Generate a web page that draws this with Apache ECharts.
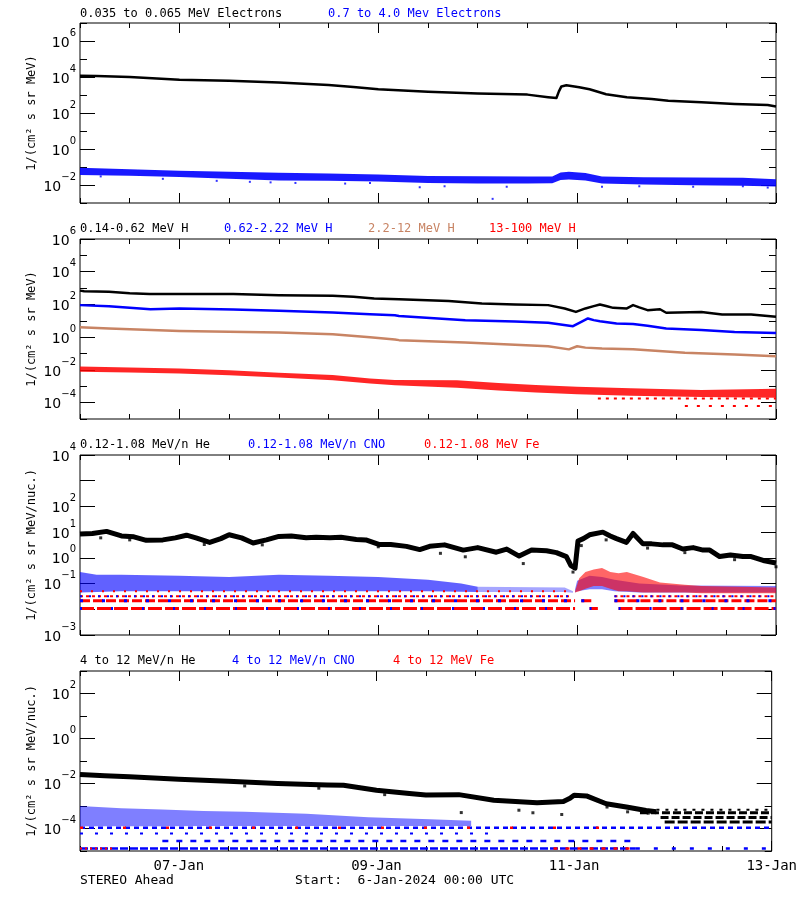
<!DOCTYPE html>
<html><head><meta charset="utf-8">
<script src="https://cdn.jsdelivr.net/npm/echarts@6/dist/echarts.min.js"></script>
<style>html,body{margin:0;padding:0;background:#fff}#c{width:800px;height:900px}</style>
</head><body><div id="c"></div>
<script>
// ---------- ticks / labels ----------
const TICK_HOURS = [0, 12, 24, 36, 48, 60, 72, 84, 96, 108, 120, 132, 144, 156, 168];
const X_MAJOR = [24, 72, 120, 168];
const X_LABELS = ['07-Jan', '09-Jan', '11-Jan', '13-Jan'];
const P1_MAJOR = [1e-2, 1, 1e2, 1e4, 1e6];
const P2_MAJOR = [1e-4, 1e-2, 1, 1e2, 1e4, 1e6];
const P3_MAJOR = [1e-3, 1e-2, 1e-1, 1, 1e1, 1e2, 1e3, 1e4];
const P4_MAJOR = [1e-4, 1e-2, 1, 1e2];

// ---------- data: [hour since 6-Jan 00:00, value] ----------
// Panel 1 electrons
const ELEC_LOW = [[0,1.17e4],[4,1.12e4],[12,1.0e4],[24,7.1e3],[36,6.2e3],[48,5.0e3],[60,3.6e3],[66,2.8e3],[72,2.1e3],[84,1.5e3],[96,1.23e3],[108,1.05e3],[113,7.6e2],[115,6.8e2],[115.6,1.6e3],[116.2,3.0e3],[117.4,3.5e3],[120.5,2.7e3],[123,2.1e3],[127,1.1e3],[132,7.4e2],[138,6.0e2],[142,4.8e2],[150,3.9e2],[158,3.2e2],[166,2.75e2],[168,2.3e2]];
// [hour, low edge, high edge]
const ELEC_HIGH_BAND = [[0,0.036,0.09],[12,0.033,0.075],[24,0.028,0.062],[36,0.022,0.055],[48,0.018,0.048],[60,0.017,0.043],[72,0.0155,0.038],[84,0.013,0.032],[96,0.012,0.031],[108,0.012,0.030],[114,0.0125,0.030],[116,0.019,0.05],[118,0.02,0.055],[122,0.018,0.046],[126,0.012,0.03],[136,0.0105,0.027],[148,0.0098,0.026],[160,0.009,0.025],[168,0.0082,0.021]];
const ELEC_HIGH_OUT = [[5,0.03],[20,0.022],[33,0.017],[41,0.015],[46,0.014],[52,0.013],[64,0.012],[70,0.013],[82,0.0075],[88,0.0085],[99.6,0.0017],[103,0.008],[126,0.008],[135,0.0085],[148,0.008],[160,0.0085],[166,0.0072]];

// Panel 2 protons
const H_LOW = [[0,700],[1,650],[7,590],[12,480],[16.8,430],[24,430],[37,430],[48,370],[61,335],[66,300],[71,235],[77,210],[89,160],[97,115],[105,100],[113,91],[117,57],[119.7,35],[122,57],[124,79],[125.5,100],[127,80],[128.7,62],[132,57],[133.5,91],[135,66],[137,45],[140,51],[141.5,31],[150,35],[155,24.5],[162,24.5],[168,17.5]];
const H_MID = [[0,91],[7,79],[17,51],[24,57],[37,49],[48,41],[61,32],[70,25],[76,22],[77,20],[93,11],[105,9],[113,7.5],[119,4.7],[121,8.7],[122.6,14],[124,11],[125.5,9.5],[129.5,6.9],[133.5,6.3],[137,5],[141.5,3.4],[150,2.7],[158,2.1],[168,1.8]];
const H_HIGH = [[0,4.1],[7,3.4],[24,2.4],[48,1.9],[61,1.5],[70,1.0],[76,0.72],[77,0.66],[93,0.47],[113,0.28],[118,0.18],[120,0.28],[122,0.23],[126,0.2],[133.5,0.18],[146,0.11],[158,0.087],[168,0.069]];
const H_13_BAND = [[0,0.0078,0.016],[12,0.007,0.014],[24,0.006,0.012],[36,0.0048,0.0095],[48,0.0034,0.0068],[61,0.0023,0.0049],[70,0.0015,0.003],[76,0.00115,0.0024],[91,0.0008,0.0023],[101,0.00055,0.0016],[110,0.00042,0.0012],[120,0.00032,0.00095],[133,0.00026,0.00075],[150,0.00022,0.0006],[168,0.0002,0.0007]];
const H_13_ROW1 = [[125,1.8e-4],[168,1.8e-4]];
const H_13_ROW2 = [[146,6.3e-5],[168,6.3e-5]];

// Panel 3 low-energy heavy ions
const HE_LOW = [[0,8.5],[3,8.9],[6.4,10.7],[10,7.1],[13,6.6],[16,4.8],[20,5.0],[23,6.0],[25.7,7.6],[28,6.0],[31.3,4.0],[34,5.6],[36,7.9],[39,6.0],[41.8,3.8],[45,5.0],[48,6.8],[51,7.1],[54.6,6.0],[57,6.3],[60.3,6.0],[63,6.3],[66.7,5.2],[69,5.0],[72.3,3.3],[75,3.3],[78.8,2.8],[82,2.1],[84.4,2.8],[88,3.2],[92.5,2.0],[96,2.5],[100.5,1.66],[103,2.2],[106,1.17],[109,2.0],[112.6,1.9],[115,1.6],[117.4,1.12],[118.5,0.5],[119.5,0.4],[120.2,4.5],[121.5,5.6],[123,7.9],[126.2,10],[128,7.1],[129.5,5.6],[131.9,4.0],[133.5,8.9],[135.9,3.5],[138,3.5],[140.7,3.2],[143,3.2],[145.5,2.2],[148,2.5],[150.4,2.0],[152,2.0],[154.4,1.12],[157,1.3],[160,1.12],[162,1.12],[164.9,0.79],[168,0.63]];
const HE_LOW_OUT = [[5,6.0],[12,5.0],[30,3.3],[44,3.2],[72,2.7],[87,1.5],[93,1.1],[107,0.6],[119,0.28],[121,3.0],[127,5.0],[137,2.4],[146,1.6],[158,0.85],[168,0.45]];
const CNO_LOW_BAND = [[0,0.045,0.28],[4,0.047,0.22],[10,0.05,0.22],[24,0.05,0.2],[36,0.05,0.18],[48,0.05,0.22],[60,0.05,0.2],[72,0.05,0.18],[84,0.05,0.14],[92,0.048,0.1],[96,0.047,0.075]];
const CNO_LOW_SPARSE = [[96,0.047,0.075],[117,0.047,0.07],[119,0.044,0.05]];
const CNO_LOW_CLUSTER = [[119.5,0.045,0.06],[120,0.05,0.13],[123,0.06,0.2],[126,0.06,0.18],[129,0.05,0.14],[135,0.045,0.1],[145,0.045,0.085],[168,0.045,0.08]];
const FE_LOW_CLUSTER = [[119.5,0.045,0.05],[120.5,0.05,0.16],[122,0.063,0.28],[124,0.08,0.35],[126,0.08,0.4],[128,0.063,0.28],[130,0.05,0.25],[132,0.05,0.28],[136,0.045,0.18],[140,0.045,0.11],[146,0.045,0.09],[150,0.042,0.08],[168,0.042,0.07]];
const ROW3_1 = [[0,0.0107],[119.5,0.0107],[121,'-'],[123,0.0107],[125,0.0107],[126,'-'],[130,0.0107],[168,0.0107]];
const ROW3_2 = [[0,0.0214],[119.5,0.0214],[120,'-'],[121,0.0214],[124,0.0214],[125,'-'],[129,0.0214],[168,0.0214]];
const ROW3_3 = [[0,0.0321],[118.5,0.0321],[119,'-'],[129,0.0321],[168,0.0321]];
const ROW3_4 = [[0,0.05],[118,0.05]];

// Panel 4 high-energy heavy ions
const HE_HIGH = [[0,0.025],[6,0.022],[12,0.02],[24,0.0155],[36,0.0126],[48,0.01],[60,0.0085],[64,0.0083],[72,0.005],[80,0.0036],[84,0.0031],[92,0.0032],[100.5,0.0018],[111,0.0014],[117.4,0.0016],[119,0.0022],[120,0.003],[123,0.0028],[127.8,0.00126],[132.7,0.00091],[137.5,0.00063],[140,0.00056]];
const HE_HIGH_OUT = [[40,0.0078],[58,0.0062],[74,0.0032],[92.6,5.1e-4],[106.6,6.5e-4],[110,5.0e-4],[117,4.2e-4],[128,9e-4],[133,5.5e-4],[138,4.8e-4]];
const HE4_ROW1 = [[140,6.8e-4],[168,6.8e-4]];
const HE4_ROW2 = [[136,5e-4],[168,5e-4]];
const HE4_ROW3 = [[141,3.1e-4],[168,3.1e-4]];
const HE4_ROW4 = [[142,1.95e-4],[168,1.95e-4]];
const CNO_HIGH_BAND = [[0,1.25e-4,1e-3],[10,1.25e-4,8e-4],[20,1.25e-4,7e-4],[30,1.3e-4,6e-4],[40,1.3e-4,5.5e-4],[55,1.3e-4,4.5e-4],[70,1.3e-4,3.2e-4],[85,1.3e-4,2.6e-4],[95,1.3e-4,2.2e-4]];
const CNO4_ROW1 = [[0,1.07e-4],[168,1.07e-4]];
const CNO4_ROW2 = [[0,6e-5],[100,6e-5]];
const CNO4_ROW3 = [[20,2.75e-5],[134,2.75e-5]];
const CNO4_ROW4 = [[0,1.3e-5],[135,1.3e-5]];
const CNO4_ROW5 = [[135,1.3e-5],[168,1.3e-5]];
const FE4_ROW1 = [[0,1.3e-5],[8,1.3e-5]];
const FE4_ROW2 = [[115,1.3e-5],[135,1.3e-5]];
const FE4_ROW3 = [[0,1.07e-4],[130,1.07e-4]];

// ---------- styling / layout ----------
const BLUE = '#0000ff', RED = '#ff0000', BROWN = '#c88464', BLACK = '#000000';
const MONO = 'DejaVu Sans Mono', SANS = 'DejaVu Sans';
const PANELS = [
  {top: 23, ymin: 1e-3, ymax: 1e7, major: P1_MAJOR, name: '1/(cm² s sr MeV)'},
  {top: 239, ymin: 1e-5, ymax: 1e6, major: P2_MAJOR, name: '1/(cm² s sr MeV)'},
  {top: 455, ymin: 1e-3, ymax: 1e4, major: P3_MAJOR, name: '1/(cm² s sr MeV/nuc.)'},
  {top: 671, ymin: 1e-5, ymax: 1e3, major: P4_MAJOR, name: '1/(cm² s sr MeV/nuc.)'}
];
const NAX = 5; // axes per grid: main + 4 tick overlays

function powLabel(v) {
  const e = Math.round(Math.log10(v));
  return '{b|10}{e|' + (e < 0 ? '−' + (-e) : e) + '}';
}

const grid = [], xAxis = [], yAxis = [];
PANELS.forEach((p, g) => {
  grid.push({left: 80, right: 24, top: p.top, height: 180, show: true, borderColor: BLACK, borderWidth: 1, backgroundColor: 'transparent'});
  // main x axis (coordinates + labels)
  xAxis.push({gridIndex: g, type: 'value', min: 0, max: 168, position: 'bottom',
    axisLine: {show: false}, splitLine: {show: false}, axisTick: {show: false},
    axisLabel: {show: g === 3, customValues: X_MAJOR, margin: 8, showMaxLabel: true, hideOverlap: false,
      formatter: v => X_LABELS[X_MAJOR.indexOf(Math.round(v))] || '',
      fontFamily: MONO, fontSize: 14, color: BLACK}});
  // tick overlays (category positions at every 12 h)
  const cats = TICK_HOURS.map(String);
  [['bottom', true], ['bottom', false], ['top', true], ['top', false]].forEach(([pos, isMajor]) => {
    xAxis.push({gridIndex: g, type: 'category', data: cats, boundaryGap: false, position: pos,
      axisLine: {show: false}, splitLine: {show: false}, axisLabel: {show: false},
      axisTick: {show: true, inside: true, length: isMajor ? 10 : 5, lineStyle: {color: BLACK},
        interval: (i) => (X_MAJOR.indexOf(TICK_HOURS[i]) >= 0) === isMajor}});
  });
  // main y axis (log coordinates + labels)
  yAxis.push({gridIndex: g, type: 'log', logBase: 10, min: p.ymin, max: p.ymax, position: 'left',
    axisLine: {show: false}, splitLine: {show: false}, axisTick: {show: false},
    name: p.name, nameLocation: 'middle', nameGap: 42, nameMoveOverlap: false,
    nameTextStyle: {fontFamily: MONO, fontSize: 12, color: BLACK},
    axisLabel: {customValues: p.major, margin: 4, formatter: powLabel, showMinLabel: true, showMaxLabel: true,
      rich: {
        b: {fontFamily: SANS, fontSize: 14, lineHeight: 14, color: BLACK, padding: [8, 0, 4, 0]},
        e: {fontFamily: SANS, fontSize: 10, lineHeight: 10, color: BLACK, padding: [0, 0, 16, 0]}
      }}});
  // decade tick overlays
  const e0 = Math.round(Math.log10(p.ymin)), e1 = Math.round(Math.log10(p.ymax));
  const decs = [];
  for (let e = e0; e <= e1; e++) decs.push(e);
  const majorExp = p.major.map(v => Math.round(Math.log10(v)));
  [['left', true], ['left', false], ['right', true], ['right', false]].forEach(([pos, isMajor]) => {
    yAxis.push({gridIndex: g, type: 'category', data: decs.map(String), boundaryGap: false, position: pos,
      axisLine: {show: false}, splitLine: {show: false}, axisLabel: {show: false},
      axisTick: {show: true, inside: true, length: isMajor ? 15 : 7, lineStyle: {color: BLACK},
        interval: (i) => (majorExp.indexOf(decs[i]) >= 0) === isMajor}});
  });
});

function line(g, data, color, width, dash, z) {
  return {type: 'line', xAxisIndex: g * NAX, yAxisIndex: g * NAX, data: data, showSymbol: false, symbol: 'none',
    connectNulls: false, silent: true, animation: false, z: z || 3,
    lineStyle: {color: color, width: width, type: dash || 'solid', cap: 'butt', join: 'round'}};
}
function dots(g, data, color, size, z) {
  return {type: 'scatter', xAxisIndex: g * NAX, yAxisIndex: g * NAX, data: data, symbol: 'rect', symbolSize: size || 3,
    silent: true, animation: false, z: z || 3, itemStyle: {color: color}};
}
function band(g, data, color, opacity, z) {
  return {type: 'custom', xAxisIndex: g * NAX, yAxisIndex: g * NAX, data: [[data[0][0], data[0][1]]], silent: true, animation: false, z: z || 2,
    renderItem: function (params, api) {
      const pts = [];
      for (let i = 0; i < data.length; i++) pts.push(api.coord([data[i][0], data[i][1]]));
      for (let i = data.length - 1; i >= 0; i--) pts.push(api.coord([data[i][0], data[i][2]]));
      return {type: 'polygon', shape: {points: pts}, style: {fill: color, opacity: opacity}};
    }};
}

const series = [
  // panel 1
  line(0, ELEC_LOW, BLACK, 2.5),
  band(0, ELEC_HIGH_BAND, BLUE, 0.9),
  dots(0, ELEC_HIGH_OUT, BLUE, 2),
  // panel 2
  line(1, H_LOW, BLACK, 2.5),
  line(1, H_MID, BLUE, 2.5),
  line(1, H_HIGH, BROWN, 2.5),
  band(1, H_13_BAND, RED, 0.85),
  line(1, H_13_ROW1, RED, 2, [3, 5]),
  line(1, H_13_ROW2, RED, 2, [3, 9]),
  // panel 3
  band(2, CNO_LOW_BAND, BLUE, 0.62),
  band(2, CNO_LOW_SPARSE, BLUE, 0.35),
  band(2, CNO_LOW_CLUSTER, BLUE, 0.5),
  line(2, ROW3_4, RED, 2, [2, 9]),
  line(2, ROW3_3, RED, 2, [3, 3]),
  line(2, ROW3_2, RED, 3, [10, 3]),
  line(2, ROW3_1, RED, 3, [14, 3]),
  line(2, ROW3_3, BLUE, 2, [2, 7], 4),
  line(2, ROW3_2, BLUE, 3, [3, 19], 4),
  line(2, ROW3_1, BLUE, 3, [2, 29], 4),
  band(2, FE_LOW_CLUSTER, RED, 0.6, 3),
  line(2, HE_LOW, BLACK, 5, null, 5),
  dots(2, HE_LOW_OUT, BLACK, 3, 5),
  // panel 4
  band(3, CNO_HIGH_BAND, BLUE, 0.5),
  line(3, CNO4_ROW1, BLUE, 2.5, [5, 4]),
  line(3, CNO4_ROW2, BLUE, 2, [3, 12]),
  line(3, CNO4_ROW3, BLUE, 2.5, [6, 8]),
  line(3, CNO4_ROW4, BLUE, 2.5, [8, 2]),
  line(3, CNO4_ROW5, BLUE, 2.5, [4, 14]),
  line(3, FE4_ROW1, RED, 2, [2, 3], 4),
  line(3, FE4_ROW2, RED, 2.5, [4, 8], 4),
  line(3, FE4_ROW3, RED, 2.5, [3, 40], 4),
  line(3, HE_HIGH, BLACK, 5, null, 5),
  dots(3, HE_HIGH_OUT, BLACK, 3, 5),
  line(3, HE4_ROW1, BLACK, 2, [3, 6], 5),
  line(3, HE4_ROW2, BLACK, 3, [8, 3], 5),
  line(3, HE4_ROW3, BLACK, 3, [8, 3], 5),
  line(3, HE4_ROW4, BLACK, 3, [10, 3], 5)
];

function T(text, left, top, color, size) {
  return {text: text, left: left, top: top, padding: 0,
    textStyle: {fontFamily: MONO, fontSize: size || 12, lineHeight: (size || 12) + 2, fontWeight: 'normal', color: color}};
}
const title = [
  T('0.035 to 0.065 MeV Electrons', 80, 7, BLACK),
  T('0.7 to 4.0 Mev Electrons', 328, 7, BLUE),
  T('0.14-0.62 MeV H', 80, 222, BLACK),
  T('0.62-2.22 MeV H', 224, 222, BLUE),
  T('2.2-12 MeV H', 368, 222, BROWN),
  T('13-100 MeV H', 489, 222, RED),
  T('0.12-1.08 MeV/n He', 80, 438, BLACK),
  T('0.12-1.08 MeV/n CNO', 248, 438, BLUE),
  T('0.12-1.08 MeV Fe', 424, 438, RED),
  T('4 to 12 MeV/n He', 80, 654, BLACK),
  T('4 to 12 MeV/n CNO', 232, 654, BLUE),
  T('4 to 12 MeV Fe', 393, 654, RED),
  T('STEREO Ahead', 80, 873, BLACK, 13),
  T('Start:  6-Jan-2024 00:00 UTC', 295, 873, BLACK, 13)
];

const chart = echarts.init(document.getElementById('c'), null, {renderer: 'canvas'});
chart.setOption({animation: false, backgroundColor: '#ffffff', title: title, grid: grid, xAxis: xAxis, yAxis: yAxis, series: series});
</script>
</body></html>
